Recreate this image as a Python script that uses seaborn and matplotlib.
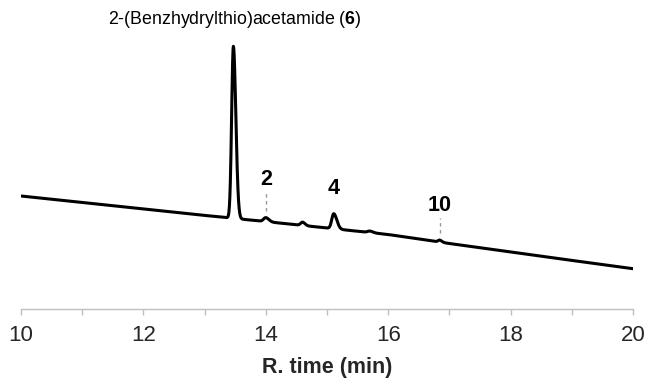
import numpy as np
import pandas as pd
import matplotlib
matplotlib.use("Agg")
import matplotlib.pyplot as plt
import seaborn as sns

# Detector baseline level at each whole minute
baseline_time = [10, 11, 12, 13, 14, 15, 16, 17, 18, 19, 20]
baseline_level = [113, 106.5, 100, 93.6, 87.4, 81, 74.5, 65.5, 57, 48.6, 40.3]

# Peaks: retention time (min), height above baseline, front / tail widths (min)
peak_time = [13.47, 14.00, 14.60, 15.11, 15.70, 16.84]
peak_height = [172, 4.0, 3.3, 15, 1.5, 2.0]
peak_front = [0.028, 0.035, 0.03, 0.032, 0.035, 0.025]
peak_tail = [0.04, 0.05, 0.04, 0.05, 0.05, 0.035]

# Peak annotations
label_text = ["2", "4", "10"]
label_time = [14.00, 15.11, 16.84]

title_text = r"2-(Benzhydrylthio)acetamide ($\mathbf{6}$)"

# Build the trace from baseline + asymmetric Gaussian peaks
t = np.linspace(10, 20, 4001)
signal = np.interp(t, baseline_time, baseline_level)
for rt, h, sf, st in zip(peak_time, peak_height, peak_front, peak_tail):
    s = np.where(t < rt, sf, st)
    signal = signal + h * np.exp(-0.5 * ((t - rt) / s) ** 2)
df = pd.DataFrame({"time": t, "signal": signal})

sns.set_style("white")
plt.rcParams["font.family"] = ["Liberation Sans", "DejaVu Sans"]
plt.rcParams["mathtext.fontset"] = "custom"
plt.rcParams["mathtext.rm"] = "Liberation Sans"
plt.rcParams["mathtext.bf"] = "Liberation Sans:bold"

fig = plt.figure(figsize=(6.47, 3.79), dpi=100)
ax = fig.add_axes([21 / 647, 1 - 309 / 379, 612 / 647, 269 / 379])

sns.lineplot(data=df, x="time", y="signal", ax=ax, color="black",
             linewidth=2.2, estimator=None, sort=False)

ax.set_xlim(10, 20)
ax.set_ylim(0, 269)

# Peak labels and dashed markers
label_y = [129.5, 120, 103.5]
for txt, xt, yt in zip(label_text, label_time, label_y):
    ax.text(xt, yt, txt, ha="center", va="center", fontsize=15.5,
            fontweight="bold", color="black")
ax.plot([label_time[0], label_time[0]], [98.3, 116], ls=(0, (2.5, 2.5)),
        color="#999999", lw=1.0)
ax.plot([label_time[2], label_time[2]], [76, 91], ls=(0, (2.5, 2.5)),
        color="#999999", lw=1.0)

ax.text(13.5, 289, title_text, ha="center", va="center", fontsize=12.8,
        color="black", clip_on=False)

for side in ["left", "right", "top"]:
    ax.spines[side].set_visible(False)
ax.spines["bottom"].set_color("#bfbfbf")
ax.spines["bottom"].set_linewidth(1.0)

ax.set_xticks(np.arange(10, 21, 2))
ax.set_xticks(np.arange(11, 20, 2), minor=True)
ax.tick_params(axis="x", which="both", direction="out", length=4.5,
               width=1.0, color="#bfbfbf", bottom=True)
ax.tick_params(axis="x", which="major", labelsize=16, pad=7)
ax.set_yticks([])
ax.set_ylabel("")
ax.set_xlabel("R. time (min)", fontsize=15.5, fontweight="bold", labelpad=8)

fig.savefig("out.png", dpi=100)
